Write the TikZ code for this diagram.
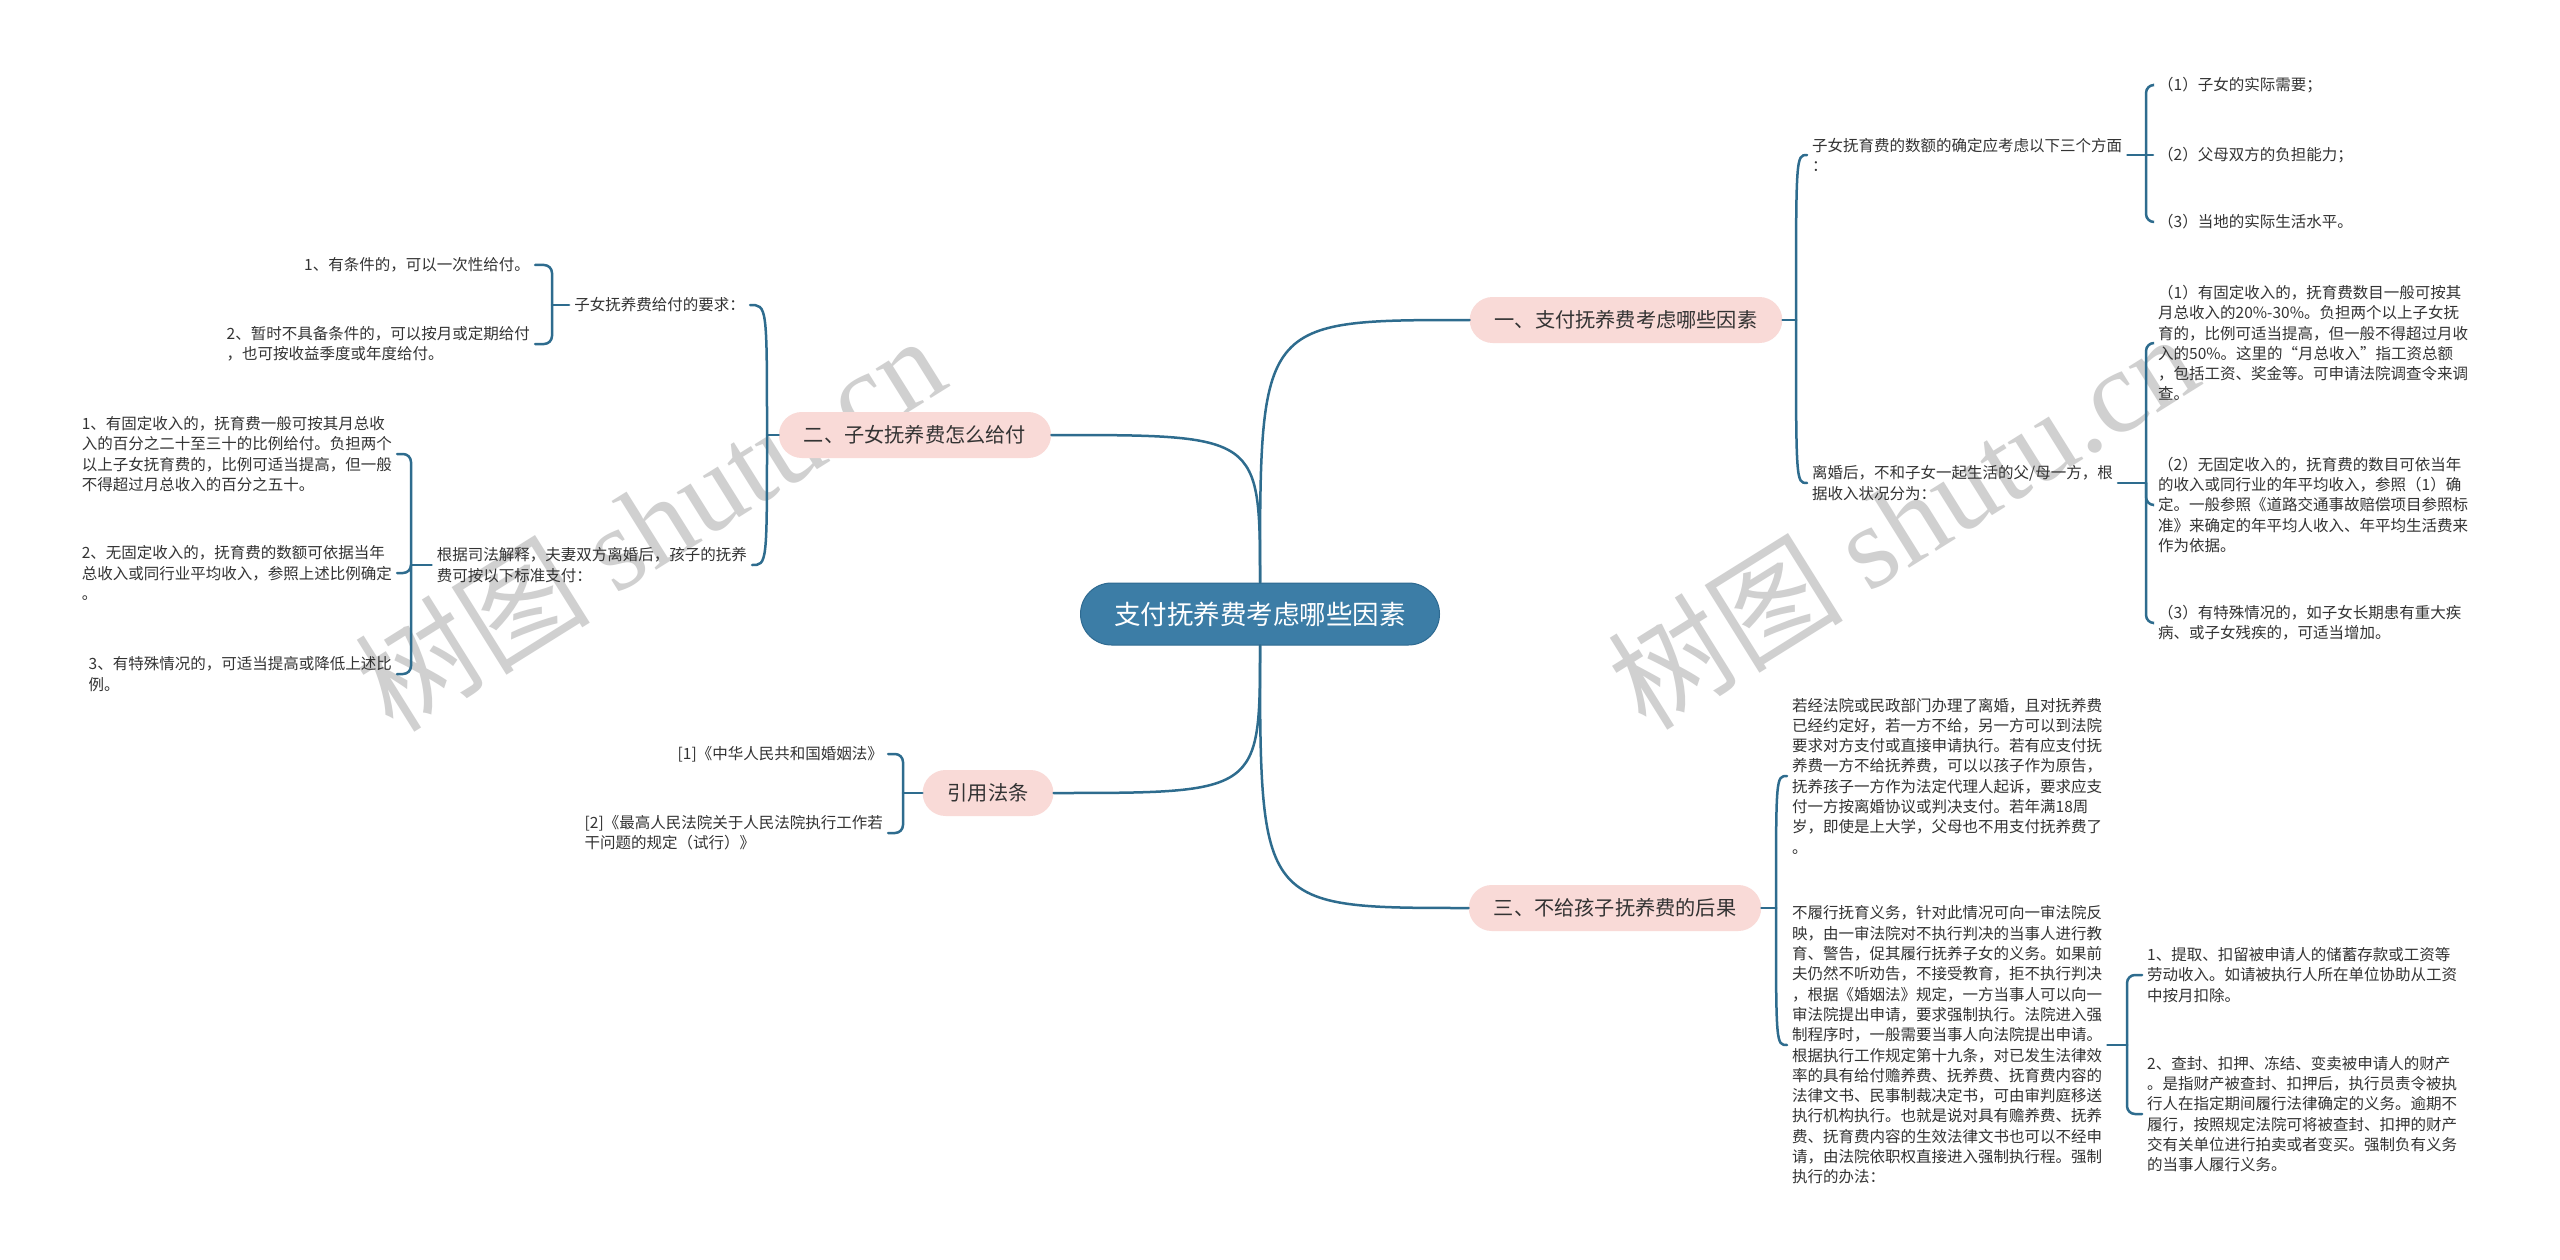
\documentclass[tikz,border=0pt]{standalone}
\usepackage{fontspec}
\setmainfont{Noto Sans CJK SC}
\newfontfamily\cjkfont{Noto Sans CJK SC}
\newfontfamily\wmlatin{Liberation Serif}
\definecolor{linec}{HTML}{2E6C8E}
\definecolor{mainfill}{HTML}{3C7DA6}
\definecolor{maindraw}{HTML}{2E6A91}
\definecolor{topicfill}{HTML}{F9DAD7}
\definecolor{txt}{HTML}{333333}
\definecolor{wm}{HTML}{D0D0D0}
\newcommand\leaffont{\cjkfont\fontsize{15.5}{20.3}\selectfont}
\tikzset{
  conn/.style={draw=linec, line width=2.5pt, line cap=round},
  brk/.style={conn, rounded corners=8pt},
  leaf/.style={font=\leaffont, text=txt, align=left, inner xsep=5pt, inner ysep=2pt},
  mainnode/.style={rectangle, rounded corners=31pt, fill=mainfill, draw=maindraw, line width=1pt,
    minimum width=359pt, minimum height=62pt, text=white, font=\cjkfont\fontsize{26.5}{30}\selectfont},
  topic/.style={rectangle, rounded corners=23pt, fill=topicfill, minimum height=46pt, inner xsep=25pt,
    text=txt, font=\cjkfont\fontsize{20.2}{24}\selectfont},
  watermark/.style={text=wm, rotate=32, font=\fontsize{118}{128}\selectfont, inner sep=0pt}
}
\begin{document}
\begin{tikzpicture}[x=1pt,y=-1pt]
\useasboundingbox[fill=white] (0,0) rectangle (2560,1260);

% watermarks
\node[watermark] (wm1) at (649,522) {\cjkfont 树图 \wmlatin shutu.cn};
\node[watermark] (wm2) at (1902,520) {\cjkfont 树图 \wmlatin shutu.cn};

% main and topics
\node[mainnode] (c) at (1260,614) {支付抚养费考虑哪些因素};
\node[topic] (b1) at (1626,320) {一、支付抚养费考虑哪些因素};
\node[topic] (b2) at (915,435) {二、子女抚养费怎么给付};
\node[topic] (b4) at (988,793) {引用法条};
\node[topic] (b3) at (1615,908) {三、不给孩子抚养费的后果};

\draw[conn] (c.north) .. controls (1260,320) .. (b1.west);
\draw[conn] (c.north) .. controls (1260,435) .. (b2.east);
\draw[conn] (c.south) .. controls (1260,793) .. (b4.east);
\draw[conn] (c.south) .. controls (1260,908) .. (b3.west);

% ---------- branch 1 ----------
\node[leaf, anchor=west] (a1) at (1807,155) {子女抚育费的数额的确定应考虑以下三个方面\\：};
\node[leaf, anchor=west] (a2) at (1807,483) {离婚后，不和子女一起生活的父/母一方，根\\据收入状况分为：};
\coordinate (j1) at (1796,320);
\draw[conn] (b1.east) -- (j1);
\draw[conn] (j1) .. controls (1796,155) .. (a1.west);
\draw[conn] (j1) .. controls (1796,483) .. (a2.west);

\node[leaf, anchor=west] (a11) at (2153,85) {（1）子女的实际需要；};
\node[leaf, anchor=west] (a12) at (2153,155) {（2）父母双方的负担能力；};
\node[leaf, anchor=west] (a13) at (2153,222) {（3）当地的实际生活水平。};
\coordinate (ja1) at (2146,155);
\draw[conn] (a1.east) -- (a12.west);
\draw[brk] (ja1) |- (a11.west);
\draw[brk] (ja1) |- (a13.west);

\node[leaf, anchor=west] (a21) at (2153,343) {（1）有固定收入的，抚育费数目一般可按其\\月总收入的20\%-30\%。负担两个以上子女抚\\育的，比例可适当提高，但一般不得超过月收\\入的50\%。这里的“月总收入”指工资总额\\，包括工资、奖金等。可申请法院调查令来调\\查。};
\node[leaf, anchor=west] (a22) at (2153,505) {（2）无固定收入的，抚育费的数目可依当年\\的收入或同行业的年平均收入，参照（1）确\\定。一般参照《道路交通事故赔偿项目参照标\\准》来确定的年平均人收入、年平均生活费来\\作为依据。};
\node[leaf, anchor=west] (a23) at (2153,623) {（3）有特殊情况的，如子女长期患有重大疾\\病、或子女残疾的，可适当增加。};
\coordinate (ja2) at (2146,483);
\draw[conn] (a2.east) -- (ja2);
\draw[brk] (ja2) |- (a21.west);
\draw[brk] (ja2) |- (a22.west);
\draw[brk] (ja2) |- (a23.west);

% ---------- branch 3 ----------
\node[leaf, anchor=west] (c1) at (1787,776) {若经法院或民政部门办理了离婚，且对抚养费\\已经约定好，若一方不给，另一方可以到法院\\要求对方支付或直接申请执行。若有应支付抚\\养费一方不给抚养费，可以以孩子作为原告，\\抚养孩子一方作为法定代理人起诉，要求应支\\付一方按离婚协议或判决支付。若年满18周\\岁，即使是上大学，父母也不用支付抚养费了\\。};
\node[leaf, anchor=west] (c2) at (1787,1045) {不履行抚育义务，针对此情况可向一审法院反\\映，由一审法院对不执行判决的当事人进行教\\育、警告，促其履行抚养子女的义务。如果前\\夫仍然不听劝告，不接受教育，拒不执行判决\\，根据《婚姻法》规定，一方当事人可以向一\\审法院提出申请，要求强制执行。法院进入强\\制程序时，一般需要当事人向法院提出申请。\\根据执行工作规定第十九条，对已发生法律效\\率的具有给付赡养费、抚养费、抚育费内容的\\法律文书、民事制裁决定书，可由审判庭移送\\执行机构执行。也就是说对具有赡养费、抚养\\费、抚育费内容的生效法律文书也可以不经申\\请，由法院依职权直接进入强制执行程。强制\\执行的办法：};
\coordinate (j3) at (1776,908);
\draw[conn] (b3.east) -- (j3);
\draw[conn] (j3) .. controls (1776,776) .. (c1.west);
\draw[conn] (j3) .. controls (1776,1045) .. (c2.west);

\node[leaf, anchor=west] (d1) at (2142,975) {1、提取、扣留被申请人的储蓄存款或工资等\\劳动收入。如请被执行人所在单位协助从工资\\中按月扣除。};
\node[leaf, anchor=west] (d2) at (2142,1114) {2、查封、扣押、冻结、变卖被申请人的财产\\。是指财产被查封、扣押后，执行员责令被执\\行人在指定期间履行法律确定的义务。逾期不\\履行，按照规定法院可将被查封、扣押的财产\\交有关单位进行拍卖或者变买。强制负有义务\\的当事人履行义务。};
\coordinate (jc2) at (2127,1045);
\draw[conn] (c2.east) -- (jc2);
\draw[brk] (jc2) |- (d1.west);
\draw[brk] (jc2) |- (d2.west);

% ---------- branch 2 (left) ----------
\node[leaf, anchor=east] (e1) at (750,305) {子女抚养费给付的要求：};
\node[leaf, anchor=east] (e2) at (752,565) {根据司法解释，夫妻双方离婚后，孩子的抚养\\费可按以下标准支付：};
\coordinate (j2) at (767,435);
\draw[conn] (b2.west) -- (j2);
\draw[conn] (j2) .. controls (767,305) .. (e1.east);
\draw[conn] (j2) .. controls (767,565) .. (e2.east);

\node[leaf, anchor=east] (e11) at (535,265) {1、有条件的，可以一次性给付。};
\node[leaf, anchor=east] (e12) at (535,344) {2、暂时不具备条件的，可以按月或定期给付\\，也可按收益季度或年度给付。};
\coordinate (je1) at (552,305);
\draw[conn] (e1.west) -- (je1);
\draw[brk] (je1) |- (e11.east);
\draw[brk] (je1) |- (e12.east);

\node[leaf, anchor=east] (e21) at (397,454) {1、有固定收入的，抚育费一般可按其月总收\\入的百分之二十至三十的比例给付。负担两个\\以上子女抚育费的，比例可适当提高，但一般\\不得超过月总收入的百分之五十。};
\node[leaf, anchor=east] (e22) at (397,573) {2、无固定收入的，抚育费的数额可依据当年\\总收入或同行业平均收入，参照上述比例确定\\。};
\node[leaf, anchor=east] (e23) at (397,674) {3、有特殊情况的，可适当提高或降低上述比\\例。};
\coordinate (je2) at (411,565);
\draw[conn] (e2.west) -- (je2);
\draw[brk] (je2) |- (e21.east);
\draw[brk] (je2) |- (e22.east);
\draw[brk] (je2) |- (e23.east);

% ---------- 引用法条 ----------
\node[leaf, anchor=east] (f1) at (888,754) {[1]《中华人民共和国婚姻法》};
\node[leaf, anchor=east] (f2) at (888,833) {[2]《最高人民法院关于人民法院执行工作若\\干问题的规定（试行）》};
\coordinate (j4) at (903,793);
\draw[conn] (b4.west) -- (j4);
\draw[brk] (j4) |- (f1.east);
\draw[brk] (j4) |- (f2.east);
\end{tikzpicture}
\end{document}
